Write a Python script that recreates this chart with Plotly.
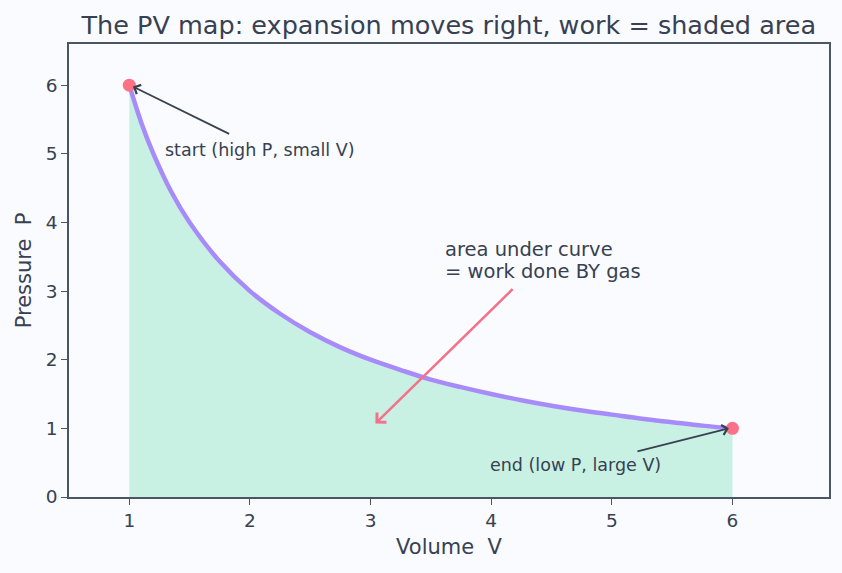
import plotly.graph_objects as go

# Data (isothermal expansion)
volume = [1.0, 1.1, 1.2, 1.35, 1.5, 1.75, 2.0, 2.25, 2.5, 2.75, 3.0, 3.25, 3.5, 3.75,
          4.0, 4.25, 4.5, 4.75, 5.0, 5.25, 5.5, 5.75, 6.0]
pressure = [6.0, 5.45, 5.0, 4.44, 4.0, 3.43, 3.0, 2.67, 2.4, 2.18, 2.0, 1.85, 1.71, 1.6,
            1.5, 1.41, 1.33, 1.26, 1.2, 1.14, 1.09, 1.04, 1.0]
endpoints_v = [1, 6]
endpoints_p = [6, 1]

title_text = "The PV map: expansion moves right, work = shaded area"
x_ticks = [1, 2, 3, 4, 5, 6]
y_ticks = [0, 1, 2, 3, 4, 5, 6]

TXT = "#374151"
AX = "#4b5563"
FONT = "DejaVu Sans"

fig = go.Figure()
fig.add_trace(go.Scatter(x=volume, y=pressure, mode="lines", line=dict(width=0, shape="spline"),
                         fill="tozeroy", fillcolor="rgba(52,211,153,0.25)", hoverinfo="skip",
                         showlegend=False))
fig.add_trace(go.Scatter(x=volume, y=pressure, mode="lines",
                         line=dict(color="#a78bfa", width=4.5, shape="spline"), showlegend=False))
fig.add_trace(go.Scatter(x=endpoints_v, y=endpoints_p, mode="markers",
                         marker=dict(color="#fb7185", size=13), showlegend=False))

# arrows
fig.add_annotation(x=1.03, y=5.98, ax=1.84, ay=5.28, xref="x", yref="y", axref="x", ayref="y",
                   text="", showarrow=True, arrowhead=4, arrowsize=1.1, arrowwidth=1.8, arrowcolor=TXT)
fig.add_annotation(x=1.28, y=5.05, xref="x", yref="y", text="start (high P, small V)", showarrow=False,
                   xanchor="left", yanchor="middle", font=dict(family=FONT, size=17.5, color=TXT))
fig.add_annotation(x=5.97, y=1.0, ax=5.2, ay=0.66, xref="x", yref="y", axref="x", ayref="y",
                   text="", showarrow=True, arrowhead=4, arrowsize=1.1, arrowwidth=1.8, arrowcolor=TXT)
fig.add_annotation(x=3.975, y=0.47, xref="x", yref="y", text="end (low P, large V)", showarrow=False,
                   xanchor="left", yanchor="middle", font=dict(family=FONT, size=17.5, color=TXT))
fig.add_annotation(x=3.04, y=1.07, ax=4.19, ay=3.05, xref="x", yref="y", axref="x", ayref="y",
                   text="", showarrow=True, arrowhead=4, arrowsize=1, arrowwidth=2.6, arrowcolor="#f47189")
fig.add_annotation(x=3.6, y=3.61, xref="x", yref="y", text="area under curve",
                   showarrow=False, xanchor="left", yanchor="middle", align="left",
                   font=dict(family=FONT, size=19.5, color=TXT))
fig.add_annotation(x=3.6, y=3.285, xref="x", yref="y", text="= work done BY gas",
                   showarrow=False, xanchor="left", yanchor="middle", align="left",
                   font=dict(family=FONT, size=19.5, color=TXT))

fig.update_layout(
    width=842, height=573,
    margin=dict(l=69, r=13, t=44, b=76),
    paper_bgcolor="#fafbfe", plot_bgcolor="#fafbfe",
    title=dict(text=title_text, x=0.533, xanchor="center", y=0.956, yanchor="middle",
               font=dict(family=FONT, size=25.5, color=TXT)),
    font=dict(family=FONT, color=TXT),
    xaxis=dict(range=[0.5, 6.8], tickvals=x_ticks, showgrid=False, zeroline=False,
               showline=True, linecolor=AX, linewidth=1.6, mirror=True,
               ticks="outside", ticklen=6, tickcolor=AX, tickfont=dict(size=18.5, color=TXT),
               title=dict(text="Volume  V", font=dict(size=21, color=TXT), standoff=9)),
    yaxis=dict(range=[0, 6.6], tickvals=y_ticks, showgrid=False, zeroline=False,
               showline=True, linecolor=AX, linewidth=1.6, mirror=True,
               ticks="outside", ticklen=6, tickcolor=AX, tickfont=dict(size=18.5, color=TXT),
               title=dict(text="Pressure  P", font=dict(size=21, color=TXT), standoff=8)),
)

fig.write_html("out.html")
